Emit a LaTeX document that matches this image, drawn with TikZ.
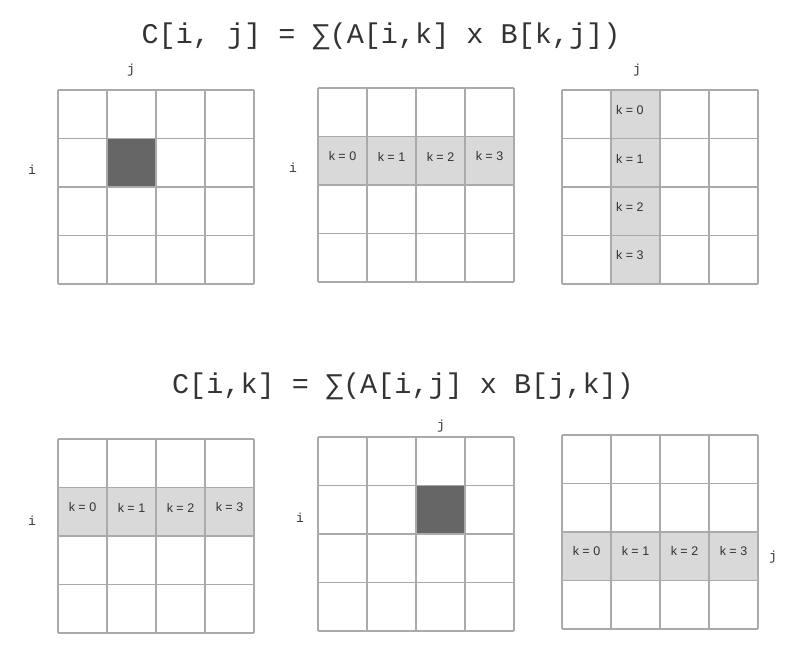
\documentclass[tikz,border=0pt]{standalone}
\usepackage{fontspec}
\setmainfont{Liberation Sans}
\setsansfont{Liberation Sans}
\setmonofont{Liberation Mono}
\usetikzlibrary{positioning}
\usepackage{xcolor}
\definecolor{gridline}{HTML}{AAAAAA}
\definecolor{darkcell}{HTML}{666666}
\definecolor{lightcell}{HTML}{D9D9D9}
\definecolor{ink}{HTML}{333333}

\begin{document}
\begin{tikzpicture}[x=1pt, y=-1pt,
  every node/.style={inner sep=0pt, text=ink},
  title/.style={font=\fontsize{28.5}{30}\selectfont\ttfamily, anchor=base},
  idx/.style={font=\fontsize{13}{14}\selectfont\ttfamily},
  klabel/.style={font=\fontsize{12.5}{14}\selectfont\sffamily},
  grid line/.style={draw=gridline, line width=1.3pt},
]
\useasboundingbox (0,0) rectangle (804,648);

% titles
\node[title] (title top) at (381,43.5) {C[i, j] = ∑(A[i,k] x B[k,j])};
\node[title] (title bottom) at (403,393) {C[i,k] = ∑(A[i,j] x B[j,k])};

% highlighted cells
\fill[darkcell] (107,138.5) rectangle ++(49,48.5);
\fill[lightcell] (318,136.5) rectangle (514,185);
\fill[lightcell] (611,90) rectangle (660,284);
\fill[lightcell] (58,487.5) rectangle (254,536);
\fill[darkcell] (416,485.5) rectangle ++(49,48.5);
\fill[lightcell] (562,532) rectangle (758,580.5);

% the six 4x4 grids
\foreach \gx/\gy in {58/90, 318/88, 562/90, 58/439, 318/437, 562/435} {
  \foreach \n in {0,...,4} {
    \draw[grid line] (\gx+\n*49, \gy) -- (\gx+\n*49, \gy+194);
    \draw[grid line] (\gx, \gy+\n*48.5) -- (\gx+196, \gy+\n*48.5);
  }
}

% k labels
\foreach \k in {0,...,3} {
  \node[klabel] (ka-\k) at (342.5+\k*49, 156.5) {k = \k};
  \node[klabel, anchor=west] (kb-\k) at (616, 110+\k*48.5) {k = \k};
  \node[klabel] (kc-\k) at (82.5+\k*49, 507.5) {k = \k};
  \node[klabel] (kd-\k) at (586.5+\k*49, 551) {k = \k};
}

% index labels
\node[idx] (j top left) at (131,70) {j};
\node[idx] (i top left) at (32,170) {i};
\node[idx] (i top mid) at (293,168) {i};
\node[idx] (j top right) at (637,70) {j};
\node[idx] (i bottom left) at (32,521) {i};
\node[idx] (j bottom mid) at (441,426) {j};
\node[idx] (i bottom mid) at (300,518) {i};
\node[idx] (j bottom right) at (773,557) {j};

\end{tikzpicture}
\end{document}
